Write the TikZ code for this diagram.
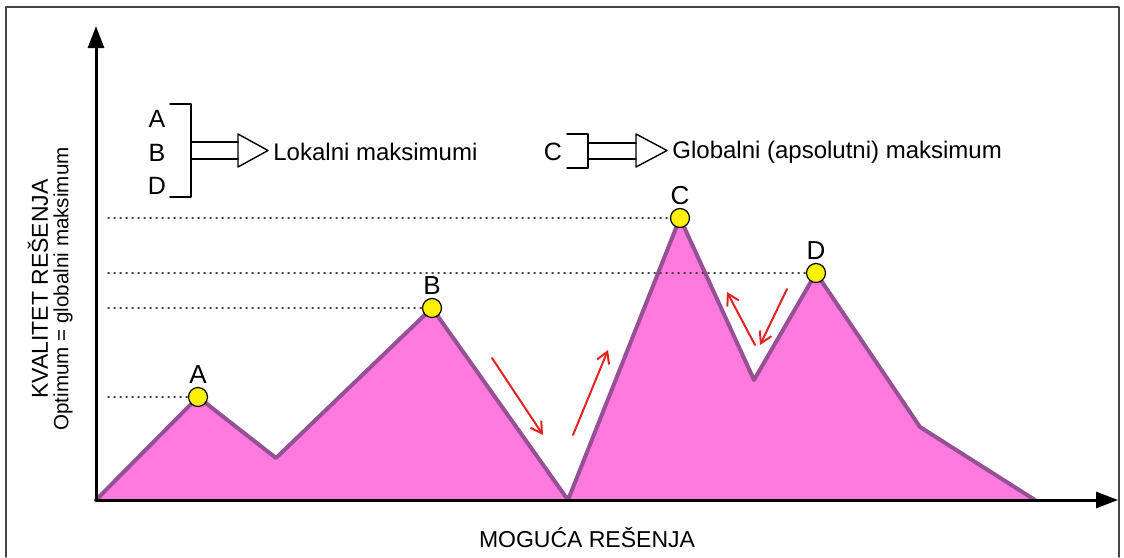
\documentclass[tikz,border=0pt]{standalone}
\usepackage{fontspec}
\setmainfont{Liberation Sans}
\usetikzlibrary{arrows.meta}
\definecolor{peakfill}{RGB}{255,122,220}
\definecolor{peakline}{RGB}{150,80,150}
\definecolor{movered}{RGB}{225,35,35}
\definecolor{framegray}{RGB}{70,70,70}

\begin{document}
\begin{tikzpicture}[x=0.5pt, y=-0.5pt, line cap=round, line join=round,
		font=\fontsize{11.5}{13}\selectfont,
		peak/.style={circle, draw=black, fill=yellow, line width=0.6pt, minimum size=9.5pt, inner sep=0pt},
		peaklabel/.style={above, inner sep=1.5pt, font=\fontsize{13}{15}\selectfont},
		keyletter/.style={font=\fontsize{12.5}{14}\selectfont},
		level/.style={black!75, line width=0.6pt, dash pattern=on 0.6pt off 2.4pt},
		move/.style={movered, line width=1pt, -{Straight Barb[length=5.5pt, width=6.5pt]}},
		axis/.style={line width=1.5pt, -{Triangle[length=11pt, width=8pt]}},
		legend/.style={line width=0.7pt}]
	\useasboundingbox (0, 0) rectangle (1124, 557);
	% frame
	\draw[framegray, line width=0.9pt] (6, 557) -- (6, 7) -- (1119, 7) -- (1119, 557);
	% landscape
	\coordinate (O) at (96, 500);
	\coordinate (A) at (198, 397);
	\coordinate (V1) at (276, 458);
	\coordinate (B) at (432, 308);
	\coordinate (V2) at (568, 500);
	\coordinate (C) at (680, 218);
	\coordinate (V3) at (754, 380);
	\coordinate (D) at (816, 273);
	\coordinate (K) at (920, 427);
	\coordinate (E) at (1035, 500);
	\fill[peakfill] (O) -- (A) -- (V1) -- (B) -- (V2) -- (C) -- (V3) -- (D) -- (K) -- (E) -- cycle;
	\draw[peakline, line width=2pt] (O) -- (A) -- (V1) -- (B) -- (V2) -- (C) -- (V3) -- (D) -- (K) -- (E);
	% levels
	\coordinate (L) at (108, 0);
	\draw[level] (L |- C) -- (C);
	\draw[level] (L |- D) -- (D);
	\draw[level] (L |- B) -- (B);
	\draw[level] (L |- A) -- (A);
	% axes
	\coordinate (Xend) at (1118, 500);
	\coordinate (Yend) at (96, 26);
	\draw[axis] (O) -- (Xend);
	\draw[axis] (O) -- (Yend);
	% peaks
	\node[peak] (pA) at (A) {};
	\node[peak] (pB) at (B) {};
	\node[peak] (pC) at (C) {};
	\node[peak] (pD) at (D) {};
	\node[peaklabel] (lA) at (pA.north) {A};
	\node[peaklabel] (lB) at (pB.north) {B};
	\node[peaklabel] (lC) at (pC.north) {C};
	\node[peaklabel] (lD) at (pD.north) {D};
	% moves
	\coordinate (m1) at (492, 358);
	\coordinate (m2) at (543, 435);
	\coordinate (m3) at (573, 435);
	\coordinate (m4) at (608, 350);
	\coordinate (m5) at (755, 345);
	\coordinate (m6) at (727, 292);
	\coordinate (m7) at (787, 289);
	\coordinate (m8) at (760, 345);
	\draw[move] (m1) -- (m2);
	\draw[move] (m3) -- (m4);
	\draw[move] (m5) -- (m6);
	\draw[move] (m7) -- (m8);
	% legend
	\node[keyletter] (kA) at (157, 119) {A};
	\node[keyletter] (kB) at (157, 153) {B};
	\node[keyletter] (kD) at (157, 186) {D};
	\draw[legend] (170, 104) -- (191, 104) -- (191, 197) -- (170, 197);
	\draw[legend] (191, 142) -- (238, 142);
	\draw[legend] (191, 159) -- (238, 159);
	\draw[legend] (238, 134) -- (268, 150.5) -- (238, 167) -- cycle;
	\node[right, inner sep=0pt] (tLok) at (273, 152) {\fontsize{12}{14}\selectfont Lokalni maksimumi};
	\node[keyletter] (kC) at (553, 152) {C};
	\draw[legend] (567, 134) -- (588, 134) -- (588, 168) -- (567, 168);
	\draw[legend] (588, 143) -- (636, 143);
	\draw[legend] (588, 159) -- (636, 159);
	\draw[legend] (636, 134) -- (667, 150.5) -- (636, 167) -- cycle;
	\node[right, inner sep=0pt] (tGlob) at (672, 152) {\fontsize{12}{14}\selectfont Globalni (apsolutni) maksimum};
	% axis labels
	\node[rotate=90] (yq) at (38, 289) {KVALITET REŠENJA};
	\node[rotate=90] (yo) at (63, 289) {\fontsize{10.3}{12}\selectfont Optimum = globalni maksimum};
	\node (xl) at (587, 538) {MOGUĆA REŠENJA};
\end{tikzpicture}
\end{document}
